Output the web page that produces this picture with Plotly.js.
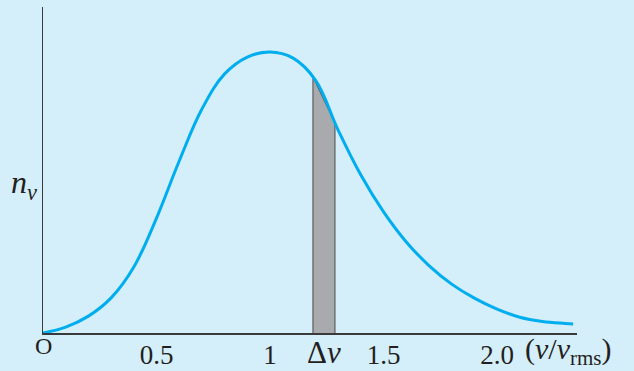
<!DOCTYPE html>
<html>
<head>
<meta charset="utf-8">
<script src="https://cdn.plot.ly/plotly-3.0.1.min.js"></script>
<style>html,body{margin:0;padding:0;background:#d4eefa;}#chart{width:634px;height:371px;}</style>
</head>
<body>
<div id="chart"></div>
<script>
// speed in units of v_rms, and relative number of molecules n_v (peak = 1)
const speedRatio = [0, 0.1, 0.2, 0.3, 0.4, 0.5, 0.6, 0.7, 0.8, 0.9, 1.0, 1.1, 1.2, 1.3, 1.4, 1.5, 1.6, 1.7, 1.8, 1.9, 2.0, 2.1, 2.2, 2.3, 2.335];
const nv = [0, 0.021, 0.060, 0.125, 0.235, 0.409, 0.612, 0.797, 0.922, 0.982, 1.0, 0.979, 0.900, 0.722, 0.562, 0.431, 0.324, 0.240, 0.174, 0.124, 0.085, 0.056, 0.041, 0.034, 0.032];
// shaded strip Δv
const stripX = [1.189, 1.189, 1.286, 1.286];
const stripY = [0, 0.911, 0.747, 0];
const tickVals = [0.5, 1, 1.5, 2.0];
const tickText = ['0.5', '1', '1.5', '2.0'];

const serif = '"Liberation Serif", "Times New Roman", serif';
const ink = '#231f20';

const traces = [
  {x: stripX, y: stripY, type: 'scatter', mode: 'lines', fill: 'toself',
   fillcolor: '#a9aaae', line: {color: '#4a4a4e', width: 1}, hoverinfo: 'skip', showlegend: false},
  {x: speedRatio, y: nv, type: 'scatter', mode: 'lines',
   line: {color: '#00aeef', width: 3, shape: 'spline', smoothing: 1.1}, showlegend: false}
];

const layout = {
  width: 634, height: 371,
  margin: {l: 43, r: 57, t: 7, b: 38},
  paper_bgcolor: '#d4eefa', plot_bgcolor: '#d4eefa',
  xaxis: {range: [0, 2.352], showline: true, linecolor: '#3a3a3a', linewidth: 1.5,
          showgrid: false, zeroline: false, ticks: '', tickvals: tickVals, ticktext: tickText,
          ticklabelstandoff: -3,
          tickfont: {family: serif, size: 27, color: ink}, fixedrange: true},
  yaxis: {range: [0, 1.160], showline: true, linecolor: '#3a3a3a', linewidth: 1.5,
          showgrid: false, zeroline: false, showticklabels: false, ticks: '', fixedrange: true},
  annotations: [
    {xref: 'x', yref: 'y', x: 0, y: 0, yanchor: 'top', yshift: 2, showarrow: false,
     text: 'O', font: {family: serif, size: 24, color: ink}},
    {xref: 'x', yref: 'y', x: 1.237, y: 0, yanchor: 'top', yshift: 0, showarrow: false,
     text: 'Δ<i>v</i>', font: {family: serif, size: 31, color: ink}},
    {xref: 'paper', yref: 'y', x: 1.0, y: 0, xanchor: 'left', xshift: -54, yanchor: 'top', yshift: 3, showarrow: false,
     text: '(<i>v</i>/<i>v</i><sub>rms</sub>)', font: {family: serif, size: 30, color: ink}},
    {xref: 'paper', yref: 'y', x: 0, y: 0.527, xanchor: 'right', xshift: -4, showarrow: false,
     text: '<i>n</i><sub><i>v</i></sub>', font: {family: serif, size: 32, color: ink}}
  ]
};

Plotly.newPlot('chart', traces, layout, {displayModeBar: false, staticPlot: true});
</script>
</body>
</html>
